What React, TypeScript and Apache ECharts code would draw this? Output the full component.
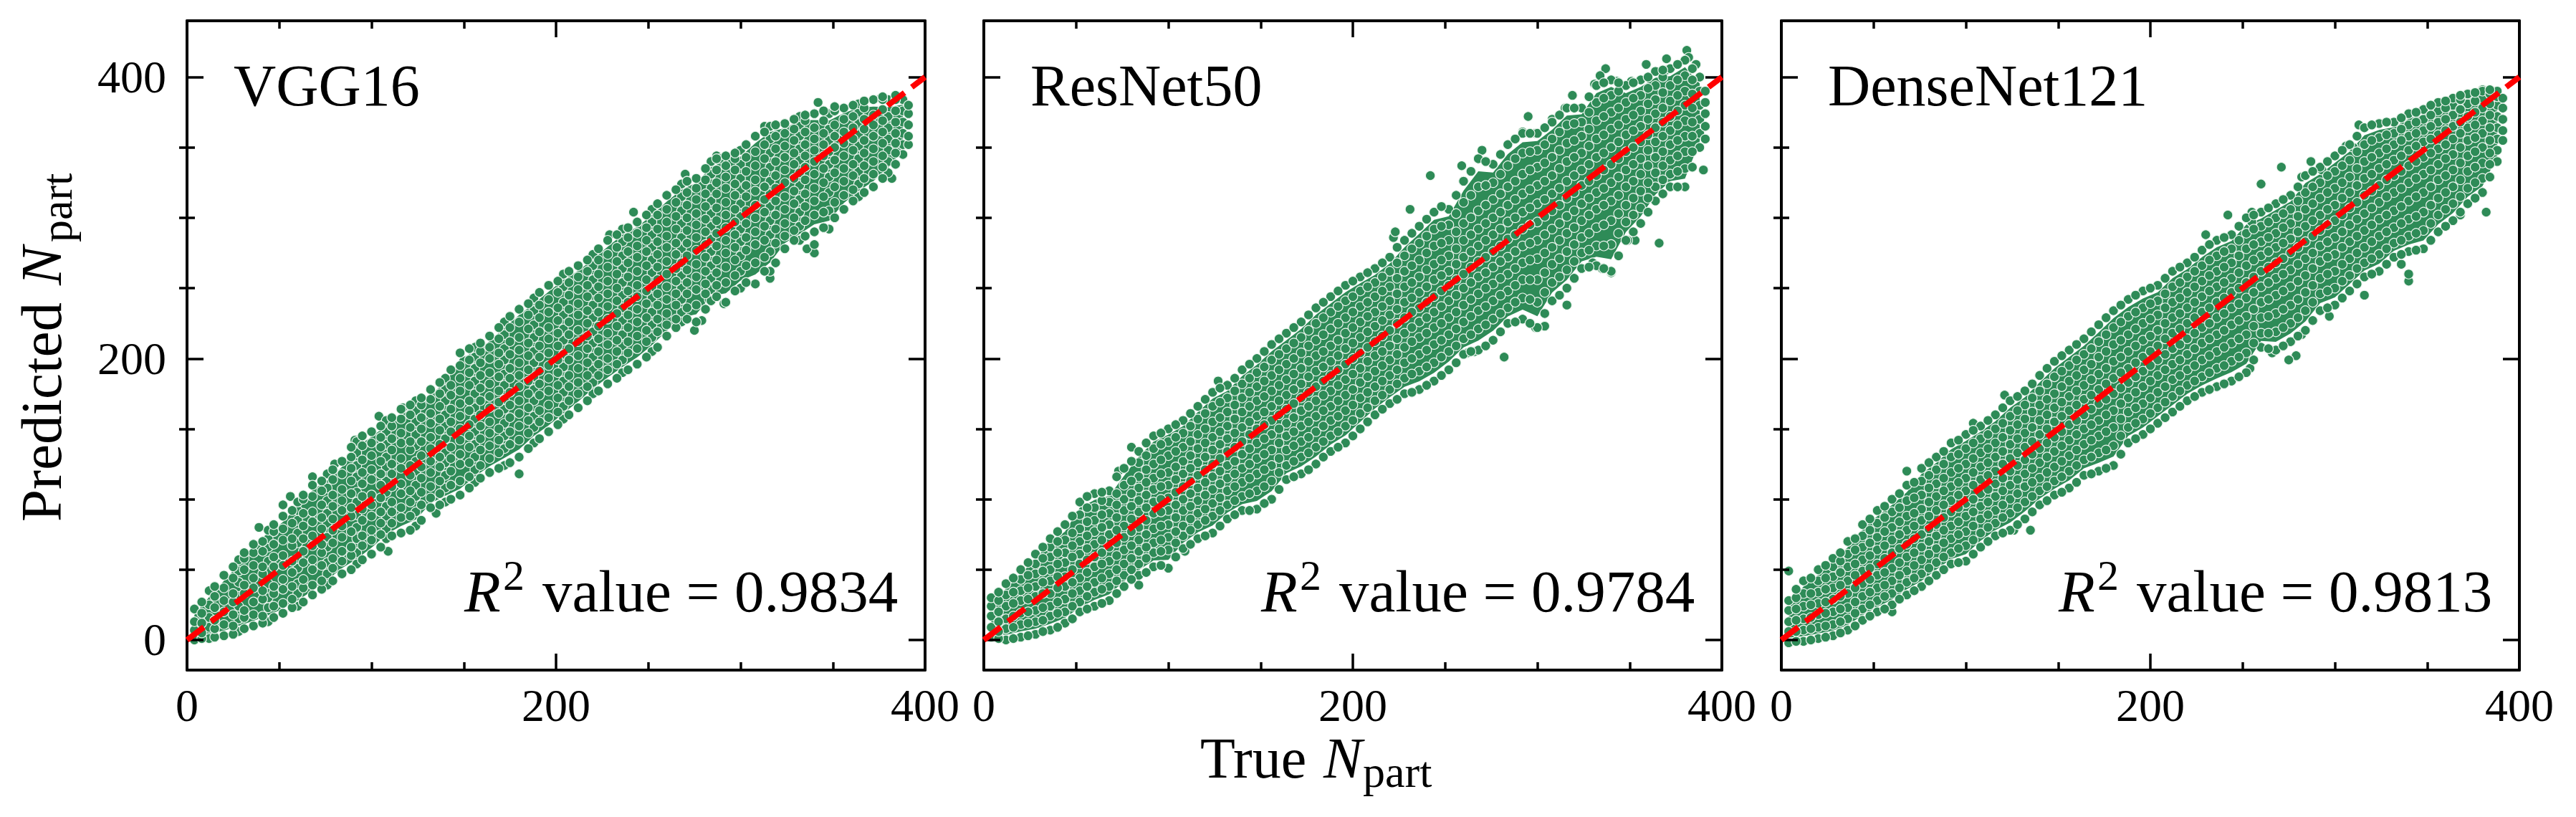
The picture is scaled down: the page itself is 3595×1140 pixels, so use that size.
import React, { useEffect, useRef } from "react";
import * as echarts from "echarts";

const panelNames = ["VGG16", "ResNet50", "DenseNet121"];
const r2Values = ["0.9834", "0.9784", "0.9813"];
const xTicks = [0, 200, 400];
const yMajorTicks = [0, 200, 400];
const yMinorTicks = [50, 100, 150, 250, 300, 350];

// Each row: [true Npart, predicted values low to high].
const columnsVGG = [
[4,0,7,13,22],[12,1,9,16,25,35],[20,3,11,20,28,37,46],[28,6,15,24,31,41,49,57],[36,10,18,27,37,44,53,62,68],
[44,13,23,30,40,49,56,66,72,78],[52,19,26,36,43,53,60,71,79,88],[60,24,33,40,51,58,69,76,85,92,98],[68,32,39,50,57,67,74,84,91,102,110],
[76,39,47,55,66,73,83,90,99,108,118],[84,47,56,63,73,81,92,99,107,118,127],[92,54,62,72,80,89,98,105,116,124,133,141],
[100,61,71,78,88,96,103,114,121,131,140,148],[108,72,79,88,95,105,113,123,130,139,148,156],[116,76,87,94,104,111,122,129,140,147,157,164],
[124,81,91,102,110,120,127,138,146,155,163,170],[132,94,101,109,119,127,136,144,154,161,171,178],[140,98,108,117,126,133,143,152,160,170,178,186],
[148,103,113,125,132,142,150,159,168,177,186,195,204],[156,112,121,130,139,148,157,165,175,184,193,201,208],[164,119,129,138,147,155,165,173,182,190,200,208,216],
[172,124,136,145,154,164,171,181,189,199,207,217,226],[180,130,142,152,161,170,180,188,197,206,215,226,235],[188,140,151,159,170,178,187,197,205,215,224,234,243],
[196,148,158,167,177,186,195,204,214,222,233,242,252],[204,157,166,176,184,194,203,213,221,231,240,251,260],[212,165,175,183,193,202,212,220,231,239,249,258,266],
[220,175,183,192,201,211,219,229,238,248,256,266,274],[228,182,192,200,210,218,228,237,246,255,265,274,284],[236,190,199,209,217,227,236,245,254,264,273,283,292],
[244,196,207,216,226,235,244,252,262,272,280,289,297],[252,205,215,224,233,243,251,261,270,279,288,297,306],[260,216,224,232,242,251,260,269,279,287,297,306,316],
[268,226,233,242,250,259,268,278,286,296,305,315,324],[276,226,238,249,258,267,277,286,295,303,313,321,328],[284,241,249,257,266,276,285,294,303,312,321,331,340],
[292,240,254,265,275,284,293,302,311,321,329,337,344],[300,250,262,273,283,292,301,310,320,328,338,348],[308,253,268,281,290,300,309,319,327,337,347,358],
[316,262,276,288,298,308,317,326,336,346,356,365],[324,278,287,296,306,315,325,334,343,351,360,367],[332,284,294,304,313,323,332,341,349,358,366,372],
[340,290,302,312,321,331,340,348,356,364,374],[348,292,305,318,329,338,347,355,363,374],[356,306,316,326,335,344,353,361,370,378],
[364,315,324,333,342,351,359,367,375,381],[372,322,331,340,349,358,366,373,384],[380,332,340,348,356,364,372,384],[388,345,352,360,368,376,384],
];
const columnsVGGb = [
[8,1,5,12,19,27],[15,2,8,14,23,31,38],[25,4,10,18,27,33,44,52],[31,8,16,21,33,39,50,58,62],[41,12,17,29,35,47,52,63,70],
[47,16,24,33,38,52,59,68,77,82],[57,23,29,38,48,56,67,72,83,92],[63,27,37,43,55,63,72,81,90,100,103],[73,36,42,53,62,68,79,87,96,106,113],
[79,42,51,58,69,78,86,95,103,114,121],[89,50,60,66,77,88,94,104,113,122,130,137],[95,57,67,74,85,93,102,111,119,128,138,145],
[105,66,75,83,91,101,110,118,127,137,144,152],[111,74,83,91,98,109,118,125,135,143,152,158],[121,78,88,98,106,117,124,135,141,151,160,167],
[127,85,96,105,115,123,131,141,150,158,167,172],[137,96,104,113,123,130,139,149,157,166,175,183],[143,100,110,120,129,137,148,155,164,174,181,192],
[153,108,116,126,137,145,153,163,170,181,190,199,207],[159,115,124,135,143,152,160,170,179,188,197,205,211],[169,122,133,142,150,161,169,177,187,196,204,214,222],
[175,126,139,148,158,167,176,186,193,203,212,222,230],[185,136,147,156,165,175,184,192,202,211,221,231,239],[191,143,155,163,174,182,191,201,209,219,229,238,247],
[201,153,162,172,181,190,199,209,218,227,236,247,255],[207,160,170,180,188,199,207,217,226,235,245,254,262],[217,170,180,188,197,207,216,225,234,244,252,262,270],
[223,177,188,196,205,214,223,233,243,251,260,270,278],[233,186,196,205,213,223,232,241,250,260,269,279,288],[239,192,204,212,222,231,240,248,258,268,276,286,293],
[249,201,212,220,229,239,248,256,266,276,284,293,302],[255,208,219,228,238,246,256,265,274,283,292,302,310],[265,222,228,238,246,255,264,274,282,292,301,311,320],
[271,228,236,246,254,263,273,282,291,300,309,318,326],[281,235,246,253,262,272,281,290,299,308,317,327,335],[287,244,252,261,270,280,289,298,307,317,325,334,342],
[297,248,259,270,279,288,297,306,316,324,334,342,346],[303,254,266,277,286,296,305,315,323,333,343,352],[313,262,272,284,294,304,313,322,332,342,352,361],
[319,268,282,292,302,312,321,330,340,349,358,366],[329,284,291,300,310,319,328,338,346,355,363,370],[335,287,298,308,317,327,336,344,352,361,369,373],
[345,293,304,315,325,335,344,352,360,369,376],[351,300,311,322,332,341,350,358,366,376,379],[361,312,320,330,338,348,356,364,372,380],
[367,318,328,337,346,355,363,370,378,383],[377,328,336,344,353,361,369,377,384,386],[384,338,346,353,360,368,376,384,387],[391,352,358,366,374,380],
];
const columnsResNet = [
[4,2,9,17,24,30],[12,0,8,15,24,32,40],[20,2,11,19,28,35,43,50],[28,4,13,21,31,38,47,54,61],[36,7,17,24,33,42,50,59,66,72],
[44,12,20,29,38,45,55,62,71,82],[52,20,27,35,44,54,61,70,79,89,98],[60,24,34,41,52,59,68,77,85,94,104],[68,28,38,47,56,66,75,82,90,98,106],
[76,38,46,54,64,73,81,92,100,110,122],[84,46,54,63,71,80,91,99,108,116,126,134],[92,52,62,69,79,90,98,107,115,125,136,145],
[100,51,64,73,82,92,101,110,119,131,141,150],[108,65,74,81,92,100,109,118,127,137,147,156],[116,72,82,90,99,108,117,126,136,146,157,166],
[124,76,88,97,107,116,125,135,144,155,166,176],[132,86,96,106,115,124,134,143,152,162,172,181],[140,92,102,112,122,132,141,151,162,172,182,192],
[148,93,106,118,129,140,150,159,170,180,190,200],[156,100,113,124,135,146,156,166,177,188,199,210],[164,114,124,135,145,154,164,174,185,196,207,218],
[172,118,130,141,152,163,172,182,193,204,215,226],[180,125,137,148,159,170,180,191,202,213,225,236],[188,134,145,156,166,177,188,198,209,221,233,244],
[196,140,152,163,174,185,196,207,218,229,241,252],[204,150,161,172,183,193,204,215,226,237,248,258],[212,160,170,180,191,202,212,223,233,244,254,264],
[220,168,178,188,199,209,220,231,241,251,262,272],[228,175,186,197,208,218,229,240,251,262,273,284],[236,178,191,203,215,226,236,247,258,270,282,294],
[244,184,197,210,222,233,244,256,267,280,292,304],[252,192,205,217,229,241,252,262,273,284,295,306],[260,203,214,226,238,250,260,272,284,296,311,326],
[268,206,221,234,246,258,269,280,292,305,322,342],[276,213,228,241,253,265,276,288,300,313,325,338],[284,225,236,248,260,272,285,297,309,322,337,352],
[292,228,243,256,268,280,292,304,317,331,346,360],[300,222,240,256,271,284,297,310,323,336,348,360],[308,241,254,267,279,292,305,317,330,343,356,368],
[316,250,263,276,289,301,314,326,340,353,366,378],[324,264,275,286,298,310,323,334,346,358,368,378],[332,266,280,293,306,318,330,343,356,369,382,394],
[340,262,281,298,312,325,338,350,363,375,387,398],[348,284,297,309,322,334,347,359,370,382,394],[356,296,307,319,331,342,354,365,376,387,398],
[364,312,322,332,343,354,364,374,384,394,404],[372,322,331,341,352,362,372,383,394,406],[380,322,335,347,358,369,380,390,401,412],[388,350,360,370,380,390,400],
];
const columnsResNetb = [
[8,1,6,13,20,28,34],[16,1,9,17,26,34,44],[24,3,12,20,29,37,46,55],[32,6,14,23,33,41,49,58,66],[40,9,19,27,37,45,54,62,70,77],
[48,15,24,33,41,50,59,67,76,88],[56,22,31,38,48,57,65,74,84,94,102],[64,26,36,44,54,62,71,80,89,99,105],[72,33,42,50,60,69,78,87,96,104,116],
[80,43,50,58,67,77,86,95,104,113,127],[88,48,58,66,75,85,94,103,112,121,131,140],[96,53,63,71,81,91,100,109,118,128,139,147],
[104,59,69,77,87,96,105,114,123,134,144,153],[112,68,78,86,95,104,113,122,131,141,152,161],[120,74,85,93,103,112,121,130,140,150,161,171],
[128,81,92,101,111,120,129,139,148,158,169,179],[136,89,99,109,118,127,137,147,157,167,177,186],[144,92,104,115,125,136,146,155,166,176,186,196],
[152,97,109,121,132,143,153,162,173,184,194,205],[160,107,119,129,140,150,160,170,181,192,203,214],[168,116,127,138,148,158,168,178,189,200,211,222],
[176,121,133,144,155,166,176,187,198,209,220,231],[184,130,141,152,163,174,184,194,205,217,229,240],[192,137,148,159,170,181,192,202,213,225,237,248],
[200,145,156,167,178,189,200,211,222,233,244,255],[208,155,165,176,187,198,208,219,230,240,251,261],[216,164,174,184,195,205,216,227,237,248,258,268],
[224,171,182,192,203,214,225,235,246,257,268,279],[232,176,189,200,212,222,233,243,254,266,278,289],[240,181,194,206,218,229,240,251,263,275,287,299],
[248,188,201,213,225,237,248,259,270,282,294,308],[256,197,209,221,233,245,256,267,278,290,303,316],[264,205,217,230,242,254,265,276,288,300,316,333],
[272,209,224,237,250,261,272,284,296,309,323,340],[280,219,232,245,257,269,280,292,304,317,331,345],[288,226,240,252,264,276,288,300,313,326,342,356],
[296,225,242,256,270,282,295,307,320,334,347,360],[304,232,247,261,275,288,301,313,326,339,352,364],[312,245,258,271,284,296,309,321,335,348,361,373],
[320,257,269,281,293,305,318,330,343,355,367,378],[328,265,277,289,302,314,326,338,351,363,375,386],[336,264,280,295,309,321,334,346,359,372,385,396],
[344,273,289,303,316,329,342,354,366,378,390,396],[352,290,302,314,326,338,350,362,373,385,396],[360,304,314,325,337,348,359,370,381,392,400],
[368,317,327,337,347,358,368,378,389,400,405],[376,322,333,344,355,366,376,387,398,409],[384,336,347,358,368,378,388,398,406],[391,356,365,374,382,390],
];
const columnsDenseNet = [
[4,-2,6,13,21,28],[12,-1,7,15,24,33,42],[20,1,9,18,26,34,42,50],[28,3,11,20,29,37,45,52,58],[36,7,15,23,33,42,52,61,70],
[44,14,22,31,40,49,57,66,74,82],[52,20,28,37,46,54,64,73,83,92],[60,25,33,42,51,62,71,80,91,100],[68,32,41,49,59,68,78,88,99,110],
[76,38,47,57,66,75,85,93,103,113,122],[84,46,55,65,74,82,92,102,111,121,130],[92,54,62,72,81,91,99,109,119,130,140],
[100,56,67,77,88,97,106,115,125,136,146],[108,66,76,86,95,104,114,123,133,143,152],[116,74,83,92,102,111,120,130,140,150,160],
[124,78,90,100,110,120,129,139,149,159,170],[132,86,98,109,118,128,137,147,157,167,177],[140,96,106,115,126,136,146,156,167,177,188],
[148,103,113,123,134,144,155,165,175,187,198],[156,108,120,131,142,153,163,173,184,195,206],[164,117,128,139,150,160,171,181,192,203,214],
[172,120,133,145,156,168,178,189,201,212,224],[180,124,138,151,163,175,186,198,210,222,234],[188,140,151,162,172,183,193,205,217,230,242],
[196,146,157,168,180,191,201,213,225,236,248],[204,154,165,176,188,199,209,220,231,241,252],[212,162,173,185,196,207,218,229,240,251,262],
[220,170,181,192,203,214,225,236,247,258,268],[228,176,187,199,211,222,233,244,255,266,277],[236,180,193,205,217,229,240,251,262,273,284],
[244,184,198,211,224,236,247,257,268,278,288],[252,190,204,217,230,243,254,266,278,289,300],[260,208,218,229,240,251,262,273,283,294,304],
[268,206,219,232,245,257,268,279,289,300,310],[276,212,225,238,251,263,275,285,296,306,316],[284,220,234,247,259,271,283,294,306,318,330],
[292,234,246,257,269,280,291,302,314,325,336],[300,238,250,262,274,286,298,309,321,333,344],[308,248,259,271,283,295,307,318,329,341,352],
[316,258,268,279,291,303,316,328,340,352,364],[324,262,274,287,299,311,323,335,346,357,367],[332,272,282,293,305,318,330,341,352,360,368],
[340,276,287,299,312,325,337,348,358,366,374],[348,278,291,304,318,331,343,354,362,370,377],[356,290,302,314,327,338,349,359,368,376,382],
[364,298,310,322,334,345,356,365,373,380,385],[372,310,321,333,344,355,364,372,381,388],[380,318,328,339,350,360,369,378,385,390],[388,340,348,356,364,372,380,386,390],
];
const columnsDenseNetb = [
[8,-1,6,14,22,30,36],[16,0,8,16,25,33,44],[24,2,10,19,27,36,44,53],[32,5,13,22,31,39,48,56,62],[40,10,19,27,37,46,54,64,72],
[48,17,25,34,43,51,60,69,78,86],[56,22,31,39,48,58,67,77,87,95],[64,29,37,46,55,65,75,84,94,104],[72,35,44,53,62,72,81,90,101,112],
[80,42,51,61,70,79,88,98,108,117,126],[88,50,59,69,78,87,96,106,115,125,134],[96,55,65,75,84,94,103,112,122,132,142],
[104,61,71,81,91,100,110,119,129,140,149],[112,70,80,89,98,107,117,126,136,146,156],[120,76,87,96,106,115,125,134,144,154,165],
[128,82,94,104,114,124,133,143,153,163,173],[136,91,102,112,122,132,141,151,162,172,182],[144,99,109,119,130,140,150,160,171,182,193],
[152,105,116,127,138,148,159,169,180,191,202],[160,112,124,135,146,156,167,177,188,199,210],[168,118,130,142,153,164,174,185,196,207,219],
[176,122,135,148,160,171,182,193,205,217,229],[184,132,145,157,168,179,190,201,213,226,238],[192,143,154,165,176,187,197,209,221,233,245],
[200,150,161,172,184,195,205,216,228,239,250],[208,158,169,180,192,203,214,225,236,246,257],[216,166,177,188,199,210,221,232,243,254,265],
[224,173,184,195,207,218,229,240,251,262,272],[232,178,190,202,214,225,236,248,259,270,281],[240,182,195,208,220,232,243,254,265,276,286],
[248,187,201,214,227,239,250,261,273,284,294],[256,199,211,223,235,247,258,270,281,292,302],[264,207,218,230,242,254,265,276,286,297,307],
[272,209,222,235,248,260,271,282,293,303,313],[280,216,229,242,255,267,279,290,301,312,322],[288,227,240,252,264,275,287,298,310,322,333],
[296,236,248,260,272,283,295,306,318,330,340],[304,243,255,267,279,290,302,314,325,337,348],[312,253,264,275,287,299,311,323,335,347,358],
[320,260,271,283,295,307,319,331,343,355,366],[328,267,278,290,302,315,327,338,349,359,368],[336,274,284,296,308,321,333,344,355,363,371],
[344,277,289,301,315,328,340,351,360,368,375],[352,284,296,309,322,334,346,356,365,373,380],[360,294,306,318,330,342,352,362,370,378,383],
[368,304,315,327,339,350,360,368,377,384,387],[376,314,325,336,347,357,366,375,383,389],[384,329,338,346,355,364,373,381,388,391],[391,355,362,370,378,385],
];

// Points that stand apart from the main band.
const strayVGG = [[39,80],[56,102],[52,96],[68,116],[80,125],[91,142],[104,159],[117,165],[109,63],[135,90],[180,118],[229,288],[242,304],[244,297],[270,331],[271,326],[287,344],[289,342],[313,365],[342,382],[316,257],[340,275],[336,278],[340,281],[291,239],[275,220],[279,227],[283,242],[382,328],[376,385]];
const strayResNet = [[80,137],[127,184],[132,181],[73,120],[84,39],[109,63],[222,286],[223,290],[231,306],[242,330],[259,337],[260,326],[270,348],[295,372],[292,361],[299,360],[308,370],[319,387],[315,378],[337,406],[334,401],[331,395],[343,397],[351,397],[359,409],[370,413],[370,405],[381,419],[382,414],[386,409],[366,282],[353,284],[349,284],[340,261],[335,264],[330,268],[316,238],[304,223],[299,222],[282,201],[266,205],[262,204],[390,334]];
const strayDenseNet = [[4,49],[60,20],[68,120],[104,154],[135,78],[126,78],[121,174],[242,302],[230,288],[228,277],[255,304],[260,304],[255,297],[260,324],[271,336],[282,329],[287,340],[293,334],[306,351],[310,350],[313,366],[316,245],[340,255],[340,260],[336,267],[297,230],[282,217],[279,202],[275,199],[266,204],[254,193],[382,304],[368,302],[380,391]];

const identityLine = [[0, 0], [400, 400]];

const panelColumns = [columnsVGG, columnsResNet, columnsDenseNet];
const panelColumnsB = [columnsVGGb, columnsResNetb, columnsDenseNetb];
const panelStray = [strayVGG, strayResNet, strayDenseNet];

const FONT = "'Liberation Serif', 'Times New Roman', serif";
const GREEN = "#2E8B57";
const PANEL_LEFT = [261, 1373, 2486];
const PANEL_TOP = 29;
const PANEL_W = 1030;
const PANEL_H = 906;
const Y_MIN = -21.4;
const Y_MAX = 440;

function label(text: string, x: number, base: number, size: number, opts: any = {}) {
  return {
    type: "text",
    x,
    y: base,
    rotation: opts.rotate ? Math.PI / 2 : 0,
    silent: true,
    z: 20,
    style: {
      text,
      x: 0,
      y: -0.3375 * size,
      align: "left",
      verticalAlign: "middle",
      fontFamily: FONT,
      fontSize: size,
      fontStyle: opts.italic ? "italic" : "normal",
      fill: "#000",
    },
  };
}

// Lower and upper rim of the dense body, just inside each column's outermost values.
const rimLow = (c: number[]) => c[1] + 0.45 * (c[2] - c[1]);
const rimHigh = (c: number[]) => c[c.length - 1] - 0.45 * (c[c.length - 1] - c[c.length - 2]);

function buildOption() {
  const grid: any[] = [];
  const xAxis: any[] = [];
  const yAxis: any[] = [];
  const series: any[] = [];
  const graphic: any[] = [];
  const line = { show: true, onZero: false, lineStyle: { color: "#000", width: 4 } };

  PANEL_LEFT.forEach((left, i) => {
    grid.push({ left, top: PANEL_TOP, width: PANEL_W, height: PANEL_H });
    ["bottom", "top"].forEach((position) => {
      xAxis.push({
        gridIndex: i,
        type: "value",
        position,
        min: 0,
        max: 400,
        interval: 200,
        z: 3,
        axisLine: line,
        axisTick: { show: true, inside: true, length: 23, lineStyle: { color: "#000", width: 3.5 } },
        minorTick: { show: true, splitNumber: 4, length: 11, lineStyle: { color: "#000", width: 3.5 } },
        splitLine: { show: false },
        minorSplitLine: { show: false },
        axisLabel: position === "bottom"
          ? { show: true, margin: 17, fontFamily: FONT, fontSize: 64, color: "#000", showMinLabel: true, showMaxLabel: true, hideOverlap: false, customValues: xTicks }
          : { show: false },
      });
    });
    ["left", "right"].forEach((position) => {
      [true, false].forEach((major) => {
        yAxis.push({
          gridIndex: i,
          type: "value",
          position,
          min: Y_MIN,
          max: Y_MAX,
          z: 3,
          axisLine: major ? line : { show: false },
          axisTick: {
            show: true,
            inside: true,
            length: major ? 23 : 11,
            customValues: major ? yMajorTicks : yMinorTicks,
            lineStyle: { color: "#000", width: 3.5 },
          },
          splitLine: { show: false },
          axisLabel: major && position === "left" && i === 0
            ? { show: true, margin: 29, fontFamily: FONT, fontSize: 64, color: "#000", hideOverlap: false, showMinLabel: true, showMaxLabel: true, customValues: yMajorTicks }
            : { show: false },
        });
      });
    });

    const columns = panelColumns[i];
    const columnsB = panelColumnsB[i];
    const stray = panelStray[i];
    const xAxisIndex = 2 * i;
    const yAxisIndex = 4 * i;
    const points: number[][] = [...stray];
    columns.forEach((col) => {
      col.slice(1).forEach((v) => points.push([col[0], v]));
    });
    columnsB.forEach((col) => {
      col.slice(1).forEach((v) => points.push([col[0], v]));
    });

    series.push({
      type: "custom",
      coordinateSystem: "cartesian2d",
      xAxisIndex,
      yAxisIndex,
      silent: true,
      z: 1,
      clip: true,
      data: columns.map((col) => [col[0], rimLow(col), rimHigh(col)]),
      encode: { x: 0, y: [1, 2] },
      renderItem: (params: any, api: any) => {
        if (params.dataIndex !== 0) return null;
        const low = columns.map((c) => api.coord([c[0], rimLow(c)]));
        const high = columns.map((c) => api.coord([c[0], rimHigh(c)])).reverse();
        return { type: "polygon", shape: { points: [...low, ...high] }, style: { fill: GREEN } };
      },
    });
    series.push({
      type: "scatter",
      xAxisIndex,
      yAxisIndex,
      silent: true,
      z: 2,
      clip: true,
      symbol: "circle",
      symbolSize: 13.5,
      itemStyle: { color: GREEN, borderColor: "#eef6f0", borderWidth: 1.2, opacity: 1 },
      data: points,
    });
    series.push({
      type: "line",
      xAxisIndex,
      yAxisIndex,
      silent: true,
      z: 4,
      clip: true,
      showSymbol: false,
      symbol: "none",
      lineStyle: { color: "#ff0000", width: 8, type: [29.6, 12.8] },
      data: identityLine,
    });

    graphic.push(label(panelNames[i], left + 65, 147, 82));
    graphic.push(label("R", left + 387, 853, 83, { italic: true }));
    graphic.push(label("2", left + 441, 823, 60));
    graphic.push(label("value = " + r2Values[i], left + 496, 853, 83));
  });

  graphic.push(label("True", 1675, 1085, 80));
  graphic.push(label("N", 1847, 1085, 81, { italic: true }));
  graphic.push(label("part", 1902, 1098, 62));
  graphic.push(label("Predicted", 85, 728, 81, { rotate: true }));
  graphic.push(label("N", 85, 398, 81, { rotate: true, italic: true }));
  graphic.push(label("part", 100, 338, 62, { rotate: true }));

  return {
    animation: false,
    backgroundColor: "#fff",
    grid,
    xAxis,
    yAxis,
    series,
    graphic,
  };
}

export default function App() {
  const ref = useRef<HTMLDivElement>(null);
  useEffect(() => {
    document.body.style.margin = "0";
    const chart = echarts.init(ref.current!, undefined, { renderer: "svg" });
    chart.setOption(buildOption() as any);
    return () => chart.dispose();
  }, []);
  return <div ref={ref} style={{ width: 3595, height: 1140 }} />;
}
